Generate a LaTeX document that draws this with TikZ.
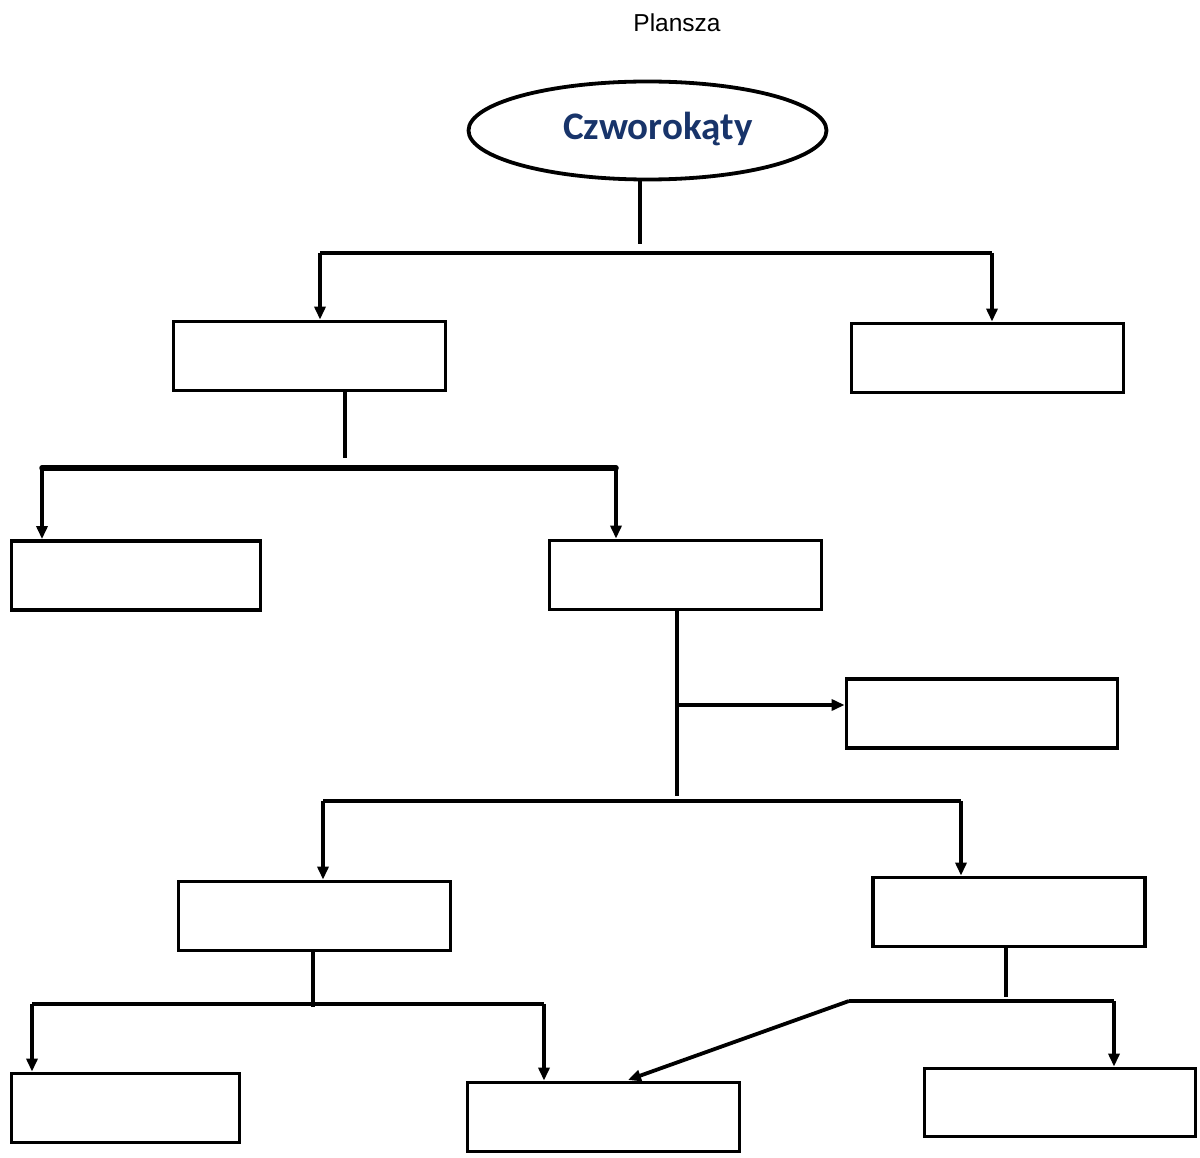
\documentclass[tikz,border=0pt]{standalone}
\usepackage{fontspec}
\setmainfont{Liberation Sans}
\newfontfamily\titlefont{Carlito}
\usetikzlibrary{arrows.meta,shapes.geometric}
\definecolor{navy}{RGB}{24,52,106}
\begin{document}
\begin{tikzpicture}[x=1pt,y=-1pt,
  box/.style={draw,line width=3.8pt,rectangle,inner sep=0pt,minimum width=272pt,minimum height=69pt},
  link/.style={line width=3.8pt},
  arr/.style={line width=3.8pt,-{Triangle[length=13pt,width=11pt]}},
]
\useasboundingbox (0,0) rectangle (1200,1158);

% heading
\node (plansza) at (677,23) {\fontsize{24.5}{28}\selectfont Plansza};

% root ellipse and its label
\node[draw,ellipse,line width=3.8pt,minimum width=358pt,minimum height=98pt,inner sep=0pt]
  (root) at (647.5,130.5) {};
\node (rootlabel) at (658,129) {\titlefont\bfseries\fontsize{39}{44}\selectfont\color{navy}Czworokąty};

% boxes
\node[box] (a1) at (309.5,356) {};
\node[box] (a2) at (987.5,358) {};
\node[box,minimum width=249pt] (b1) at (136,575.5) {};
\node[box] (b2) at (685.5,575) {};
\node[box,minimum width=271pt] (c1) at (982,713.5) {};
\node[box] (d1) at (314.5,916) {};
\node[box] (d2) at (1009,912) {};
\node[box,minimum width=228pt] (e1) at (125.5,1108) {};
\node[box] (e2) at (603.5,1117) {};
\node[box,minimum width=271pt,minimum height=68pt] (e3) at (1060,1102.5) {};

% junction points
\coordinate (r0) at (640,244);
\coordinate (rl) at (320,253);
\coordinate (rr) at (992,253);
\coordinate (a0) at (345,458);
\coordinate (al) at (42,468);
\coordinate (ar) at (616,468);
\coordinate (b0) at (677,796);
\coordinate (bm) at (677,705);
\coordinate (bl) at (323,801);
\coordinate (br) at (961,801);
\coordinate (d1s) at (313,1007);
\coordinate (dl) at (32,1004);
\coordinate (dr) at (544,1004);
\coordinate (d2s) at (1006,997);
\coordinate (el) at (849,1001);
\coordinate (er) at (1114,1001);
\coordinate (e2t) at (628,1080);

% level 1
\draw[link] (root.south -| r0) -- (r0);
\draw[link] (rl) -- (rr);
\draw[arr] (rl) -- (rl |- a1.north);
\draw[arr] (rr) -- (rr |- a2.north);

% level 2
\draw[link] (a1.south -| a0) -- (a0);
\draw[line width=5.5pt,line cap=round] (al) -- (ar);
\draw[arr] (al) -- (al |- b1.north);
\draw[arr] (ar) -- (ar |- b2.north);

% level 3
\draw[link] (b2.south -| b0) -- (b0);
\draw[arr] (bm) -- (bm -| c1.west);
\draw[link] (bl) -- (br);
\draw[arr] (bl) -- (bl |- d1.north);
\draw[arr] (br) -- (br |- d2.north);

% level 4, left branch
\draw[link] (d1.south -| d1s) -- (d1s);
\draw[link] (dl) -- (dr);
\draw[arr] (dl) -- (dl |- e1.north);
\draw[arr] (dr) -- (dr |- e2.north);

% level 4, right branch
\draw[link] (d2.south -| d2s) -- (d2s);
\draw[link] (el) -- (er);
\draw[arr] (er) -- (er |- e3.north);
\draw[arr] (el) -- (e2t);
\end{tikzpicture}
\end{document}
